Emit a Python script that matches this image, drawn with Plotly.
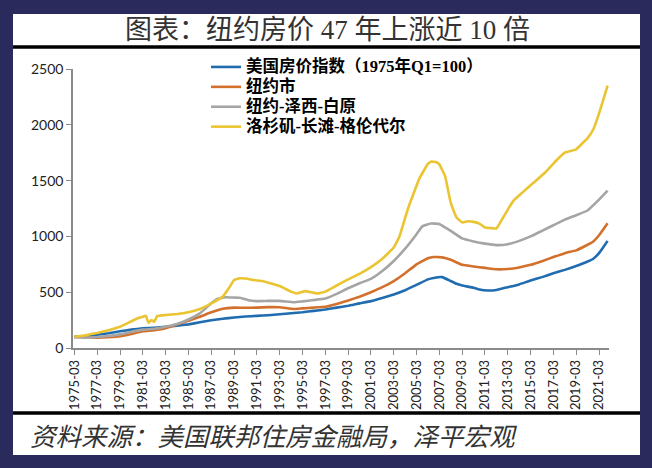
import plotly.graph_objects as go

# ---------------- data ----------------
us_dates = ["1975-03","1976-03","1977-03","1978-03","1979-03","1980-03","1981-03","1982-03","1983-03",
            "1984-03","1985-03","1986-03","1987-03","1988-03","1989-03","1990-03","1991-03","1992-03",
            "1993-03","1994-03","1995-03","1996-03","1997-03","1998-03","1999-03","2000-03","2001-03",
            "2002-03","2003-03","2004-03","2005-03","2006-03","2006-09","2007-06","2008-03","2008-09",
            "2009-03","2010-03","2010-09","2011-06","2012-03","2013-03","2014-03","2015-03","2016-03",
            "2017-03","2018-03","2019-03","2020-03","2020-09","2021-03","2021-06","2021-12"]
us_vals = [100,106,118,132,150,165,176,182,190,
           200,212,230,248,262,273,282,288,294,
           302,312,320,333,345,362,378,400,420,
           448,480,518,565,615,628,635,600,575,
           560,540,525,515,520,545,570,605,635,
           670,700,735,775,800,850,885,960]

nyc_dates = ["1975-03","1976-03","1977-03","1978-03","1979-03","1980-03","1981-03","1982-03","1983-03",
             "1984-03","1985-03","1986-03","1987-03","1988-03","1989-03","1990-03","1991-03","1992-03",
             "1993-03","1994-06","1995-03","1996-03","1997-03","1998-03","1999-03","2000-03","2001-03",
             "2002-03","2003-03","2004-03","2005-03","2006-03","2006-09","2007-06","2008-03","2009-03",
             "2010-03","2011-03","2012-03","2013-03","2014-03","2015-03","2016-03","2017-03","2018-03",
             "2019-03","2020-03","2020-09","2021-03","2021-12"]
nyc_vals = [100,97,93,97,105,125,150,160,178,
            210,245,280,320,352,362,360,362,366,
            365,350,355,362,370,395,425,460,500,
            545,600,670,750,805,815,812,790,745,
            730,718,705,708,722,745,778,815,850,
            875,925,955,1010,1118]

nynj_dates = ["1975-03","1976-03","1977-03","1978-03","1979-03","1980-03","1981-03","1982-03","1983-03",
              "1984-03","1985-03","1986-03","1987-03","1987-09","1988-06","1989-03","1989-09","1990-06",
              "1991-03","1992-03","1993-03","1994-06","1995-03","1996-03","1997-03","1998-03","1999-03",
              "2000-03","2001-03","2002-03","2003-03","2004-03","2005-03","2005-09","2006-06","2007-03",
              "2007-09","2008-03","2009-03","2010-03","2011-03","2012-03","2013-03","2014-03","2015-03",
              "2016-03","2017-03","2018-03","2019-03","2020-03","2020-09","2021-03","2021-12"]
nynj_vals = [100,93,98,108,122,145,165,172,190,
             215,255,310,400,440,455,452,450,428,
             420,422,422,410,418,430,443,485,535,
             580,620,690,780,890,1020,1090,1115,1112,
             1080,1050,982,955,935,922,930,960,1000,
             1050,1100,1150,1190,1232,1280,1330,1410]

la_dates = ["1975-03","1976-03","1977-03","1978-03","1979-03","1980-03","1980-09","1981-03","1981-06",
            "1981-09","1981-12","1982-03","1982-06","1983-03","1984-03","1985-03","1986-03","1987-03",
            "1988-03","1988-09","1989-03","1989-09","1990-03","1991-03","1991-09","1992-03","1993-03",
            "1994-03","1994-09","1995-06","1996-06","1997-03","1998-03","1999-03","2000-03","2001-03",
            "2002-03","2003-03","2003-09","2004-06","2005-06","2006-03","2006-06","2006-12","2007-03",
            "2007-09","2008-03","2008-09","2009-03","2009-09","2010-03","2010-09","2011-03","2011-09",
            "2012-03","2012-06","2013-03","2013-09","2014-06","2015-06","2016-06","2017-06","2018-03",
            "2019-03","2019-09","2020-03","2020-09","2021-03","2021-12"]
la_vals = [100,115,135,160,190,240,265,280,290,
           225,250,235,285,295,305,320,350,400,
           460,530,610,625,622,605,600,585,555,
           505,488,510,488,505,560,615,665,725,
           800,900,1000,1250,1520,1650,1670,1665,1645,
           1540,1300,1170,1125,1135,1130,1115,1080,1075,
           1070,1110,1240,1320,1390,1480,1570,1680,1750,
           1780,1830,1880,1960,2100,2350]

series_names = ["美国房价指数（1975年Q1=100）", "纽约市", "纽约-泽西-白原", "洛杉矶-长滩-格伦代尔"]
series_colors = ["#1F6DB0", "#D2702C", "#A5A5A5", "#EBC431"]
y_ticks = [0, 500, 1000, 1500, 2000, 2500]

title_text = "图表：纽约房价 47 年上涨近 10 倍"
source_text = "资料来源：美国联邦住房金融局，泽平宏观"

# ---------------- figure ----------------
fig = go.Figure()
for name, xs, ys, col in zip(series_names,
                             [us_dates, nyc_dates, nynj_dates, la_dates],
                             [us_vals, nyc_vals, nynj_vals, la_vals],
                             series_colors):
    fig.add_trace(go.Scatter(x=xs, y=ys, name='<span style="font-size:16.5px">' + name + '</span>',
                             mode="lines",
                             line=dict(color=col, width=2.6, shape="spline", smoothing=0.3)))

# plot area in px: x 73..609, y 69..348
L, R, T, B = 73, 609, 69, 348
W, H = R - L, B - T
def px(x): return (x - L) / W
def py(y): return (B - y) / H

shapes = [
    dict(type="rect", xref="paper", yref="paper", x0=px(13), x1=px(640), y0=py(455), y1=py(14),
         fillcolor="white", line=dict(width=0), layer="below"),
    dict(type="line", xref="paper", yref="paper", x0=px(13), x1=px(640), y0=py(47), y1=py(47),
         line=dict(color="black", width=3.5)),
    dict(type="line", xref="paper", yref="paper", x0=px(13), x1=px(640), y0=py(413), y1=py(413),
         line=dict(color="black", width=3.5)),
]

annotations = [
    dict(text=title_text, xref="paper", yref="paper", x=px(327), y=py(30), xanchor="center", yanchor="middle",
         showarrow=False, font=dict(family="Liberation Serif, Noto Sans CJK SC", size=27, color="#333333")),
    dict(text="<i>" + source_text + "</i>", xref="paper", yref="paper", x=px(28), y=py(437),
         xanchor="left", yanchor="middle", showarrow=False,
         font=dict(family="Liberation Serif, Noto Sans CJK SC", size=25.5, color="#333333")),
]

fig.update_layout(
    width=652, height=468,
    margin=dict(l=L, r=652 - R, t=T, b=468 - B, pad=0),
    paper_bgcolor="#2a2a5c",
    plot_bgcolor="white",
    shapes=shapes,
    annotations=annotations,
    showlegend=True,
    legend=dict(x=px(206), y=py(52), xanchor="left", yanchor="top",
                bgcolor="rgba(0,0,0,0)", tracegroupgap=0, itemwidth=30,
                font=dict(family="Liberation Serif, Noto Sans CJK SC", size=13, color="black", weight="bold")),
    xaxis=dict(type="date", range=["1975-01-15", "2022-01-15"],
               tickmode="linear", tick0="1975-03-01", dtick="M24", tickformat="%Y-%m",
               tickangle=-90, ticks="outside", ticklen=5, tickcolor="#8a8a8a",
               showline=True, linecolor="#8a8a8a", linewidth=1.5, showgrid=False, zeroline=False,
               tickfont=dict(family="Lato, Liberation Sans", size=13, color="#222222")),
    yaxis=dict(range=[0, 2500], tickmode="array", tickvals=y_ticks,
               ticks="outside", ticklen=5, tickcolor="#8a8a8a",
               showline=True, linecolor="#8a8a8a", linewidth=1.5, showgrid=False, zeroline=False,
               tickfont=dict(family="Lato, Liberation Sans", size=14, color="#222222")),
)

fig.write_html("out.html", config={"displayModeBar": False},
               post_script="document.body.style.margin='0';")
